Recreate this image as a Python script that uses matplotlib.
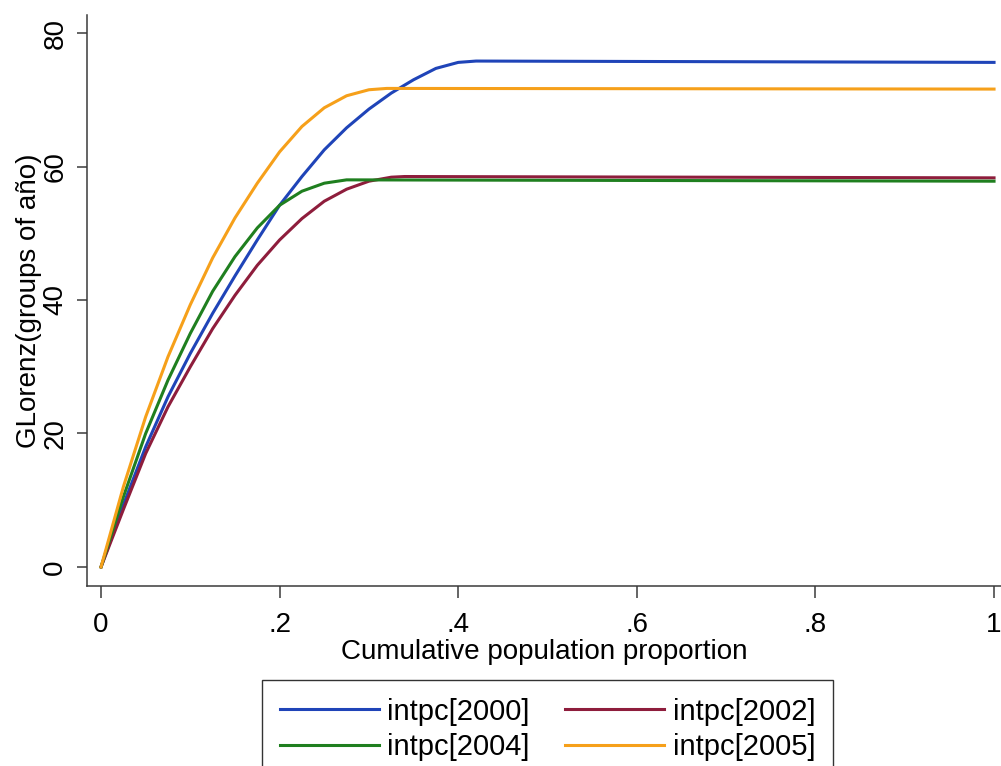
import numpy as np
import matplotlib.pyplot as plt

plt.rcParams['font.family'] = ['Liberation Sans', 'DejaVu Sans']

# generalized Lorenz ordinates by population share, one list per year
p2000 = [0, 0.025, 0.05, 0.075, 0.10, 0.125, 0.15, 0.175, 0.20, 0.225, 0.25, 0.275, 0.30, 0.325, 0.35, 0.375, 0.40, 0.42, 1.0]
v2000 = [0, 9.3, 18.0, 25.5, 32.0, 38.0, 43.6, 49.0, 54.2, 58.5, 62.5, 65.8, 68.6, 71.0, 73.0, 74.7, 75.6, 75.8, 75.6]

p2002 = [0, 0.025, 0.05, 0.075, 0.10, 0.125, 0.15, 0.175, 0.20, 0.225, 0.25, 0.275, 0.30, 0.325, 0.34, 1.0]
v2002 = [0, 8.6, 17.0, 24.0, 30.0, 35.7, 40.7, 45.2, 49.0, 52.2, 54.8, 56.6, 57.8, 58.4, 58.5, 58.3]

p2004 = [0, 0.025, 0.05, 0.075, 0.10, 0.125, 0.15, 0.175, 0.20, 0.225, 0.25, 0.275, 1.0]
v2004 = [0, 10.5, 20.0, 28.0, 35.0, 41.3, 46.5, 50.8, 54.2, 56.3, 57.5, 58.0, 57.8]

p2005 = [0, 0.025, 0.05, 0.075, 0.10, 0.125, 0.15, 0.175, 0.20, 0.225, 0.25, 0.275, 0.30, 0.32, 1.0]
v2005 = [0, 12.0, 22.5, 31.5, 39.3, 46.3, 52.3, 57.5, 62.2, 66.0, 68.8, 70.6, 71.5, 71.7, 71.6]

series = [
    (p2000, v2000, '#1f44b8', 'intpc[2000]'),
    (p2002, v2002, '#8e1d3c', 'intpc[2002]'),
    (p2004, v2004, '#1f7f1f', 'intpc[2004]'),
    (p2005, v2005, '#f6a01a', 'intpc[2005]'),
]

W, H = 1001, 766
fig = plt.figure(figsize=(W / 100, H / 100), dpi=100)
ax = fig.add_axes([87 / W, (H - 586) / H, (W - 87) / W, (586 - 15) / H])

lines = []
for p, v, c, lab in series:
    ln, = ax.plot(p, v, color=c, lw=2.2, label=lab, solid_joinstyle='round')
    lines.append(ln)

ax.set_xlim(-0.0157, 1.0078)
ax.set_ylim(-2.85, 82.7)
ax.set_xticks([0, 0.2, 0.4, 0.6, 0.8, 1.0])
ax.set_xticklabels(['0', '.2', '.4', '.6', '.8', '1'])
ax.set_yticks([0, 20, 40, 60, 80])
ax.set_yticklabels(['0', '20', '40', '60', '80'], rotation=90, va='center')

for s in ['top', 'right']:
    ax.spines[s].set_visible(False)
for s in ['left', 'bottom']:
    ax.spines[s].set_color('#3a3a3a')
    ax.spines[s].set_linewidth(1.1)

ax.tick_params(axis='x', length=8.5, width=1.1, color='#3a3a3a', labelsize=20, pad=10)
ax.tick_params(axis='y', length=7.5, width=1.1, color='#3a3a3a', labelsize=20, pad=6)

ax.set_xlabel('Cumulative population proportion', fontsize=20, labelpad=1)
ax.set_ylabel('GLorenz(groups of año)', fontsize=20, labelpad=0)

# legend filled row by row: 2000, 2002 / 2004, 2005
order = [0, 2, 1, 3]
leg = fig.legend([lines[i] for i in order], [series[i][3] for i in order],
                 loc='upper center', bbox_to_anchor=(547.5 / W, 1 - 680 / H),
                 ncol=2, fontsize=21, frameon=True, fancybox=False,
                 edgecolor='black', handlelength=3.4, handletextpad=0.3,
                 columnspacing=1.2, labelspacing=0.25, borderpad=0.6,
                 borderaxespad=0)
leg.get_frame().set_linewidth(1.0)

fig.savefig('out.png', dpi=100, facecolor='white')
